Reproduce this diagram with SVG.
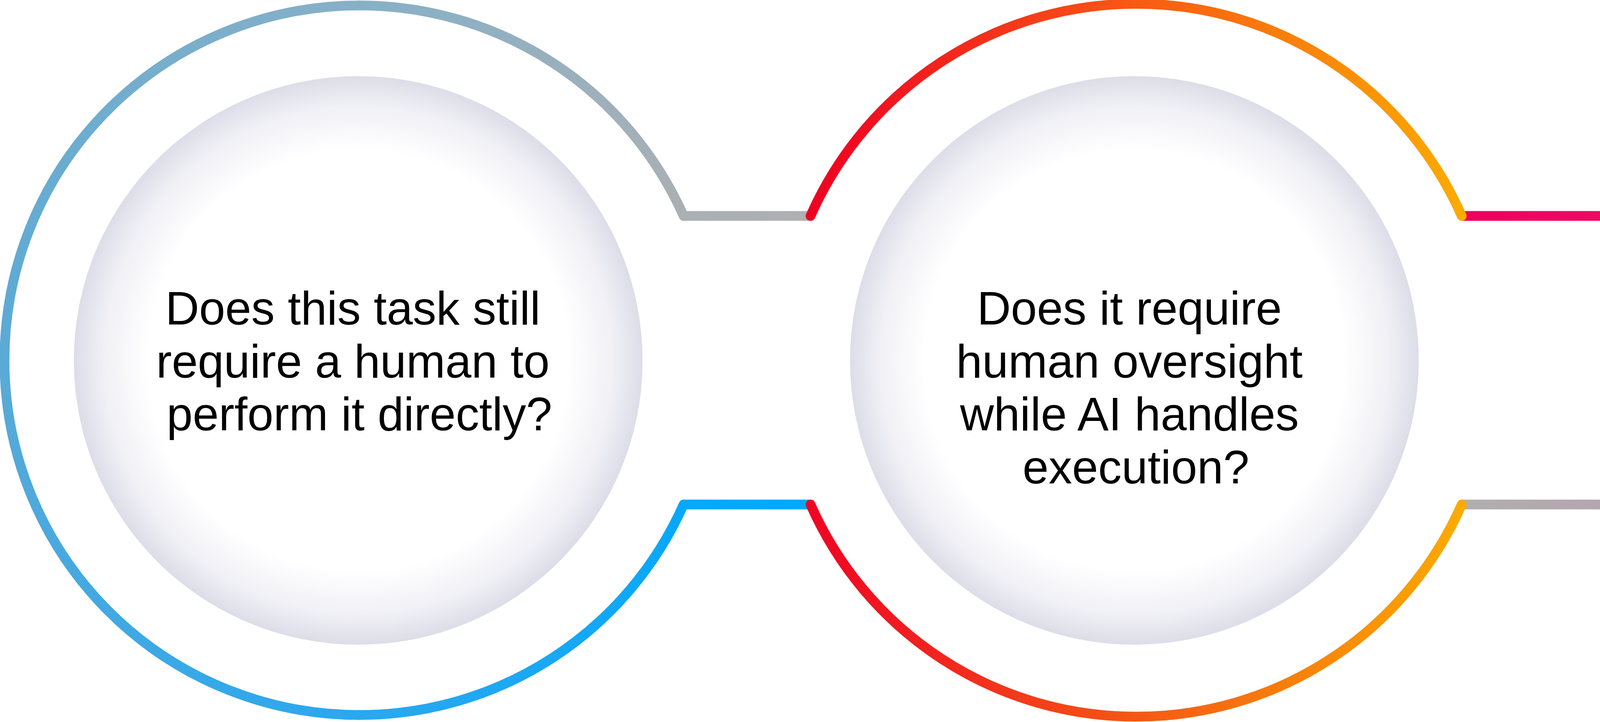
<svg xmlns="http://www.w3.org/2000/svg" width="5878" height="1849" viewBox="0 0 5878 1849">
  <style>
    .ring { fill: none; stroke-width: 25; stroke-linecap: round; }
    .conn { fill: none; stroke-width: 25; stroke-linecap: butt; }
    .inner { fill: url(#innerShade); }
    .label { font-family: "Liberation Sans", Arial, sans-serif; font-size: 120px; fill: #000; text-anchor: middle; }
  </style>
  <defs>
    <radialGradient id="innerShade" cx="0.5" cy="0.5" r="0.5">
      <stop offset="0" stop-color="#ffffff"/>
      <stop offset="0.74" stop-color="#ffffff"/>
      <stop offset="0.89" stop-color="#f1f1f6"/>
      <stop offset="1" stop-color="#dddde9"/>
    </radialGradient>
    <linearGradient id="gL1" gradientUnits="userSpaceOnUse" x1="1750" y1="553" x2="920" y2="14">
      <stop offset="0" stop-color="#aab0b4"/><stop offset="1" stop-color="#87b0c7"/>
    </linearGradient>
    <linearGradient id="gL2" gradientUnits="userSpaceOnUse" x1="920" y1="14" x2="11.5" y2="922.5">
      <stop offset="0" stop-color="#87b0c7"/><stop offset="1" stop-color="#5aaad6"/>
    </linearGradient>
    <linearGradient id="gL3" gradientUnits="userSpaceOnUse" x1="11.5" y1="922.5" x2="920" y2="1831">
      <stop offset="0" stop-color="#5aaad6"/><stop offset="1" stop-color="#2aa8ee"/>
    </linearGradient>
    <linearGradient id="gL4" gradientUnits="userSpaceOnUse" x1="920" y1="1831" x2="1750" y2="1292">
      <stop offset="0" stop-color="#2aa8ee"/><stop offset="1" stop-color="#06a8fa"/>
    </linearGradient>
    <linearGradient id="gMT" gradientUnits="userSpaceOnUse" x1="2075" y1="0" x2="3742" y2="0">
      <stop offset="0" stop-color="#ef0022"/><stop offset="0.5" stop-color="#f85a14"/><stop offset="1" stop-color="#fbab00"/>
    </linearGradient>
    <linearGradient id="gMB" gradientUnits="userSpaceOnUse" x1="2075" y1="0" x2="3742" y2="0">
      <stop offset="0" stop-color="#ef0424"/><stop offset="0.5" stop-color="#f55815"/><stop offset="1" stop-color="#fbab00"/>
    </linearGradient>
    <linearGradient id="gR1" gradientUnits="userSpaceOnUse" x1="4123" y1="553" x2="4953" y2="14">
      <stop offset="0" stop-color="#ee0a60"/><stop offset="1" stop-color="#e1317a"/>
    </linearGradient>
    <linearGradient id="gR2" gradientUnits="userSpaceOnUse" x1="4953" y1="14" x2="5861.5" y2="922.5">
      <stop offset="0" stop-color="#e1317a"/><stop offset="1" stop-color="#d05a8a"/>
    </linearGradient>
    <linearGradient id="gR3" gradientUnits="userSpaceOnUse" x1="5861.5" y1="922.5" x2="4953" y2="1831">
      <stop offset="0" stop-color="#d05a8a"/><stop offset="1" stop-color="#c288a2"/>
    </linearGradient>
    <linearGradient id="gR4" gradientUnits="userSpaceOnUse" x1="4953" y1="1831" x2="4123" y2="1292">
      <stop offset="0" stop-color="#c288a2"/><stop offset="1" stop-color="#b5a6ae"/>
    </linearGradient>
    <linearGradient id="gC1" gradientUnits="userSpaceOnUse" x1="1750" y1="0" x2="2075" y2="0">
      <stop offset="0" stop-color="#a9b0b5"/><stop offset="1" stop-color="#b0b0b0"/>
    </linearGradient>
    <linearGradient id="gC2" gradientUnits="userSpaceOnUse" x1="1750" y1="0" x2="2075" y2="0">
      <stop offset="0" stop-color="#0aa8f8"/><stop offset="1" stop-color="#03a8fd"/>
    </linearGradient>
    <linearGradient id="gC3" gradientUnits="userSpaceOnUse" x1="3742" y1="0" x2="4123" y2="0">
      <stop offset="0" stop-color="#ef005c"/><stop offset="1" stop-color="#ee0a64"/>
    </linearGradient>
    <linearGradient id="gC4" gradientUnits="userSpaceOnUse" x1="3742" y1="0" x2="4123" y2="0">
      <stop offset="0" stop-color="#b0b0b0"/><stop offset="1" stop-color="#b5a5ad"/>
    </linearGradient>
  </defs>

  <rect x="0" y="0" width="5878" height="1849" fill="#ffffff"/>

  <g id="connectors">
    <line class="conn" x1="1750" y1="553" x2="2075" y2="553" stroke="url(#gC1)"/>
    <line class="conn" x1="1750" y1="1292" x2="2075" y2="1292" stroke="url(#gC2)"/>
    <line class="conn" x1="3742" y1="553" x2="4123" y2="553" stroke="url(#gC3)"/>
    <line class="conn" x1="3742" y1="1292" x2="4123" y2="1292" stroke="url(#gC4)"/>
  </g>

  <g id="node-1">
    <path class="ring" d="M1750 553 A908.5 908.5 0 0 0 920 14" stroke="url(#gL1)"/>
    <path class="ring" d="M920 14 A908.5 908.5 0 0 0 11.5 922.5" stroke="url(#gL2)"/>
    <path class="ring" d="M11.5 922.5 A908.5 908.5 0 0 0 920 1831" stroke="url(#gL3)"/>
    <path class="ring" d="M920 1831 A908.5 908.5 0 0 0 1750 1292" stroke="url(#gL4)"/>
    <circle class="inner" cx="917" cy="923" r="728"/>
    <text class="label">
      <tspan x="920" y="831">Does this task still</tspan>
      <tspan x="920" y="967">require a human to</tspan>
      <tspan x="920" y="1102">perform it directly?</tspan>
    </text>
  </g>

  <g id="node-2">
    <path class="ring" d="M2075 553 A911 911 0 0 1 3742 553" stroke="url(#gMT)"/>
    <path class="ring" d="M2075 1292 A911 911 0 0 0 3742 1292" stroke="url(#gMB)"/>
    <circle class="inner" cx="2904" cy="923" r="728"/>
    <text class="label">
      <tspan x="2908" y="831">Does it require</tspan>
      <tspan x="2908" y="967">human oversight</tspan>
      <tspan x="2908" y="1102">while AI handles</tspan>
      <tspan x="2908" y="1238">execution?</tspan>
    </text>
  </g>

  <g id="node-3">
    <path class="ring" d="M4123 553 A908.5 908.5 0 0 1 4953 14" stroke="url(#gR1)"/>
    <path class="ring" d="M4953 14 A908.5 908.5 0 0 1 5861.5 922.5" stroke="url(#gR2)"/>
    <path class="ring" d="M5861.5 922.5 A908.5 908.5 0 0 1 4953 1831" stroke="url(#gR3)"/>
    <path class="ring" d="M4953 1831 A908.5 908.5 0 0 1 4123 1292" stroke="url(#gR4)"/>
    <circle class="inner" cx="4951" cy="923" r="728"/>
    <text class="label">
      <tspan x="4951" y="831">Or has it become</tspan>
      <tspan x="4951" y="967">low value for</tspan>
      <tspan x="4951" y="1102">humans to practice</tspan>
      <tspan x="4951" y="1238">at all?</tspan>
    </text>
  </g>
</svg>
